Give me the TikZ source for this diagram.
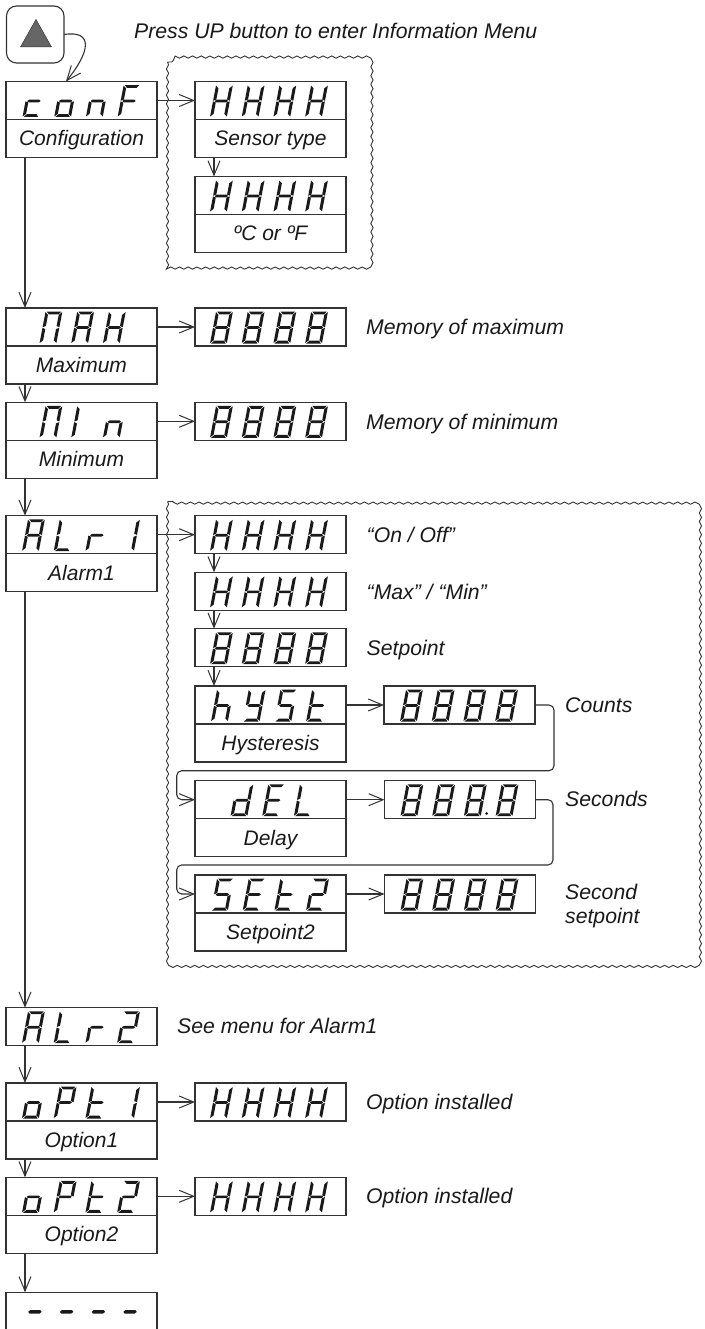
\documentclass[tikz,border=0pt]{standalone}
\usepackage{fontspec}
\setmainfont{Liberation Sans}
\usetikzlibrary{arrows.meta,decorations.pathmorphing}
\definecolor{ln}{HTML}{333333}
\definecolor{segc}{HTML}{1A1A1A}
\definecolor{tri}{HTML}{666666}
\tikzset{
  dispbox/.style={draw=ln,line width=1.1pt,rectangle,anchor=north west,inner sep=0pt,outer sep=0pt,minimum width=151pt,minimum height=38pt},
  lblbox/.style={draw=ln,line width=1.1pt,rectangle,anchor=north west,inner sep=0pt,outer sep=0pt,minimum width=151pt,minimum height=38pt,
    font=\fontsize{21}{24}\selectfont\itshape,text height=15pt,text depth=0pt,text=black!90},
  note/.style={anchor=base west,inner sep=0pt,font=\fontsize{21.2}{25}\selectfont\itshape,text=black!90},
  conn/.style={draw=ln,line width=1.1pt,-{Straight Barb[length=14.5pt,width=12pt,line width=1pt]}},
  wave/.style={draw=ln,line width=.9pt,decorate,decoration={snake,amplitude=1.1pt,segment length=8.7pt}}
}
\def\SegA{\fill[segc] (1,31)--(14,31)--(12,28.2)--(3.5,28.2)--cycle;}
\def\SegD{\fill[segc] (1,0)--(14,0)--(12,2.8)--(3.5,2.8)--cycle;}
\def\SegG{\fill[segc] (1.5,15.5)--(3,16.8)--(12,16.8)--(13.5,15.5)--(12,14.2)--(3,14.2)--cycle;}
\def\SegF{\fill[segc] (0,30.5)--(2.7,27.8)--(2.7,17)--(0,15.8)--cycle;}
\def\SegE{\fill[segc] (0,15.2)--(2.7,14)--(2.7,3)--(0,.5)--cycle;}
\def\SegB{\fill[segc] (15,30.5)--(12.3,27.8)--(12.3,17)--(15,15.8)--cycle;}
\def\SegC{\fill[segc] (15,15.2)--(12.3,14)--(12.3,3)--(15,.5)--cycle;}
\def\GlyH{\SegB\SegC\SegE\SegF\SegG}
\def\GlyE{\SegA\SegD\SegE\SegF\SegG}
\def\GlyEi{\SegA\SegB\SegC\SegD\SegE\SegF\SegG}
\def\GlyCc{\SegD\SegE\SegG}
\def\GlyO{\SegC\SegD\SegE\SegG}
\def\GlyN{\SegC\SegE\SegG}
\def\GlyF{\SegA\SegE\SegF\SegG}
\def\GlyM{\SegA\SegB\SegC\SegE\SegF}
\def\GlyA{\SegA\SegB\SegC\SegE\SegF\SegG}
\def\GlyIl{\SegE\SegF}
\def\GlyIr{\SegB\SegC}
\def\GlyL{\SegD\SegE\SegF}
\def\GlyR{\SegE\SegG}
\def\GlyTw{\SegA\SegB\SegD\SegE\SegG}
\def\GlyHh{\SegC\SegE\SegF\SegG}
\def\GlyY{\SegB\SegC\SegD\SegF\SegG}
\def\GlyS{\SegA\SegC\SegD\SegF\SegG}
\def\GlyT{\SegD\SegE\SegF\SegG}
\def\GlyD{\SegB\SegC\SegD\SegE\SegG}
\def\GlyP{\SegA\SegB\SegE\SegF\SegG}
\def\GlyDa{\fill[segc] (1.5,15.5)--(3,17.2)--(12,17.2)--(13.5,15.5)--(12,13.8)--(3,13.8)--cycle;}
\newcommand\Dsp[4]{%
  \foreach \gl [count=\ii from 0] in {#4}{%
    \begin{scope}[shift={(#1+#3+\ii*31.7-.5,#2+35.5)},x=1.12pt,y=1.03pt,xslant=.19]\gl\end{scope}}}
\begin{document}
\begin{tikzpicture}[x=1pt,y=-1pt]
\useasboundingbox (0,0) rectangle (704,1329);
\coordinate (trunk) at (25,0);
\coordinate (inner) at (214,0);
\coordinate (btnin) at (66,0);
% wavy frames
\draw[wave] (167.5,62) rectangle (373,268);
\draw[wave] (167.5,501.5) rectangle (702.5,961);
% button
\node[draw=ln,line width=1.1pt,rounded corners=10pt,anchor=north west,minimum width=57.5pt,minimum height=57pt,inner sep=0pt,outer sep=0pt] (btn) at (6.5,6) {};
\fill[tri,draw=ln,line width=.5pt] (36,19.5)--(20.5,47)--(51.5,47)--cycle;
\node[note] (title) at (134,38.5) {Press UP button to enter Information Menu};
% left column
\node[dispbox] (conf) at (6,81.5) {};
\node[lblbox] (confl) at (conf.south west) {Configuration};
\node[dispbox] (max) at (6,308) {};
\node[lblbox] (maxl) at (max.south west) {Maximum};
\node[dispbox] (min) at (6,402.3) {};
\node[lblbox] (minl) at (min.south west) {Minimum};
\node[dispbox] (alone) at (6,515.7) {};
\node[lblbox] (alonel) at (alone.south west) {Alarm1};
\node[dispbox] (altwo) at (6,1007.7) {};
\node[dispbox] (optone) at (6,1083) {};
\node[lblbox] (optonel) at (optone.south west) {Option1};
\node[dispbox] (opttwo) at (6,1177.3) {};
\node[lblbox] (opttwol) at (opttwo.south west) {Option2};
\node[dispbox] (endb) at (6,1292.3) {};
% second column
\node[dispbox] (sens) at (195,81.5) {};
\node[lblbox] (sensl) at (sens.south west) {Sensor type};
\node[dispbox] (unit) at (195,176.5) {};
\node[lblbox] (unitl) at (unit.south west) {ºC or ºF};
\node[dispbox] (maxv) at (195,308) {};
\node[dispbox] (minv) at (195,402.3) {};
\node[dispbox] (onoff) at (195,515.7) {};
\node[dispbox] (maxmin) at (195,572.3) {};
\node[dispbox] (setp) at (195,628.7) {};
\node[dispbox] (hyst) at (195,686) {};
\node[lblbox] (hystl) at (hyst.south west) {Hysteresis};
\node[dispbox] (del) at (195,780.7) {};
\node[lblbox] (dell) at (del.south west) {Delay};
\node[dispbox] (sett) at (195,875) {};
\node[lblbox] (settl) at (sett.south west) {Setpoint2};
\node[dispbox] (optonev) at (195,1083) {};
\node[dispbox] (opttwov) at (195,1177.3) {};
% third column
\node[dispbox] (hystv) at (384,686) {};
\node[dispbox] (delv) at (384.5,780.7) {};
\node[dispbox] (settv) at (384.5,875) {};
% seven segment digits
\Dsp{6}{81.5}{17}{\GlyCc,\GlyO,\GlyN,\GlyF}
\Dsp{6}{308}{34}{\GlyM,\GlyA,\GlyH}
\Dsp{6}{402.3}{34}{\GlyM,\GlyIl,\GlyN}
\Dsp{6}{515.7}{16.5}{\GlyA,\GlyL,\GlyR,\GlyIr}
\Dsp{6}{1007.7}{16.5}{\GlyA,\GlyL,\GlyR,\GlyTw}
\Dsp{6}{1083}{16.5}{\GlyO,\GlyP,\GlyT,\GlyIr}
\Dsp{6}{1177.3}{16.5}{\GlyO,\GlyP,\GlyT,\GlyTw}
\Dsp{6}{1292.3}{18}{\GlyDa,\GlyDa,\GlyDa,\GlyDa}
\Dsp{195}{81.5}{15.5}{\GlyH,\GlyH,\GlyH,\GlyH}
\Dsp{195}{176.5}{15.5}{\GlyH,\GlyH,\GlyH,\GlyH}
\Dsp{195}{308}{15.5}{\GlyEi,\GlyEi,\GlyEi,\GlyEi}
\Dsp{195}{402.3}{15.5}{\GlyEi,\GlyEi,\GlyEi,\GlyEi}
\Dsp{195}{515.7}{15.5}{\GlyH,\GlyH,\GlyH,\GlyH}
\Dsp{195}{572.3}{15.5}{\GlyH,\GlyH,\GlyH,\GlyH}
\Dsp{195}{628.7}{15.5}{\GlyEi,\GlyEi,\GlyEi,\GlyEi}
\Dsp{195}{686}{16.5}{\GlyHh,\GlyY,\GlyS,\GlyT}
\Dsp{195}{780.7}{36}{\GlyD,\GlyE,\GlyL}
\Dsp{195}{875}{16.5}{\GlyS,\GlyE,\GlyT,\GlyTw}
\Dsp{195}{1083}{15.5}{\GlyH,\GlyH,\GlyH,\GlyH}
\Dsp{195}{1177.3}{15.5}{\GlyH,\GlyH,\GlyH,\GlyH}
\Dsp{384}{686}{16.5}{\GlyEi,\GlyEi,\GlyEi,\GlyEi}
\Dsp{384.5}{780.7}{16.5}{\GlyEi,\GlyEi,\GlyEi,\GlyEi}
\fill[segc] (486.7,813.5) circle (1.5);
\Dsp{384.5}{875}{16.5}{\GlyEi,\GlyEi,\GlyEi,\GlyEi}
% notes
\node[note] (n1) at (366,334) {Memory of maximum};
\node[note] (n2) at (366,429) {Memory of minimum};
\node[note] (n3) at (366.5,542) {“On / Off”};
\node[note] (n4) at (366.5,599) {“Max” / “Min”};
\node[note] (n5) at (366.5,655.5) {Setpoint};
\node[note] (n6) at (565,712.5) {Counts};
\node[note] (n7) at (565,806.5) {Seconds};
\node[note] (n8) at (565,899) {Second};
\node[note] (n9) at (565,923) {setpoint};
\node[note] (n10) at (177,1033.5) {See menu for Alarm1};
\node[note] (n11) at (366,1109.5) {Option installed};
\node[note] (n12) at (366,1203.5) {Option installed};
% connectors
\draw[conn] (btn.east) .. controls (94,30) and (90,52) .. (conf.north -| btnin);
\draw[conn] (conf.east) -- (sens.west);
\draw[conn] (sensl.south -| inner) -- (unit.north -| inner);
\draw[conn] (confl.south -| trunk) -- (max.north -| trunk);
\draw[conn] (max.east) -- (maxv.west);
\draw[conn] (maxl.south -| trunk) -- (min.north -| trunk);
\draw[conn] (min.east) -- (minv.west);
\draw[conn] (minl.south -| trunk) -- (alone.north -| trunk);
\draw[conn] (alone.east) -- (onoff.west);
\draw[conn] (onoff.south -| inner) -- (maxmin.north -| inner);
\draw[conn] (maxmin.south -| inner) -- (setp.north -| inner);
\draw[conn] (setp.south -| inner) -- (hyst.north -| inner);
\draw[conn] (hyst.east) -- (hystv.west);
\draw[conn] (del.east) -- (delv.west);
\draw[conn] (sett.east) -- (settv.west);
\coordinate (ra) at (554,770.7);
\coordinate (la) at (176.7,770.7);
\coordinate (rb) at (553,865);
\coordinate (lb) at (176.7,865);
\draw[conn,rounded corners=5pt] (hystv.east) -| (ra) -- (la) |- (del.west);
\draw[conn,rounded corners=5pt] (delv.east) -| (rb) -- (lb) |- (sett.west);
\draw[conn] (alonel.south -| trunk) -- (altwo.north -| trunk);
\draw[conn] (altwo.south -| trunk) -- (optone.north -| trunk);
\draw[conn] (optone.east) -- (optonev.west);
\draw[conn] (optonel.south -| trunk) -- (opttwo.north -| trunk);
\draw[conn] (opttwo.east) -- (opttwov.west);
\draw[conn] (opttwol.south -| trunk) -- (endb.north -| trunk);
\end{tikzpicture}
\end{document}
